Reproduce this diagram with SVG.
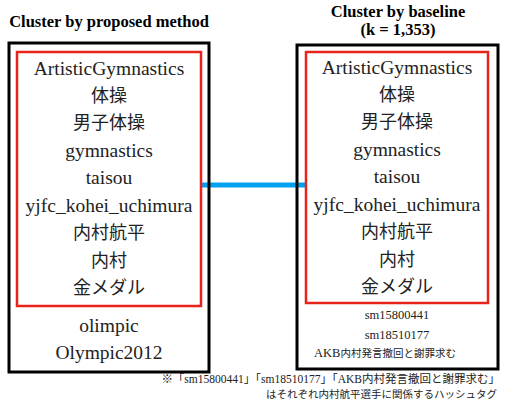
<svg xmlns="http://www.w3.org/2000/svg" width="512" height="402" viewBox="0 0 512 402">
<style>
.outer{fill:none;stroke:#000;stroke-width:3}
.inner{fill:none;stroke:#e8231a;stroke-width:2.5}
.t{font-family:"Liberation Serif","Noto Sans CJK JP",serif;font-size:19.5px;fill:#222;text-anchor:middle}
.j{font-family:"Liberation Serif","Noto Sans CJK JP",serif;font-size:18px;fill:#222;text-anchor:middle}
.s{font-family:"Liberation Serif","Noto Sans CJK JP",serif;font-size:12.5px;fill:#222;text-anchor:middle}
.h{font-family:"Liberation Serif","Noto Sans CJK JP",serif;font-size:16.5px;font-weight:bold;fill:#000;text-anchor:middle}
.n{font-family:"Liberation Serif","Noto Sans CJK JP",serif;font-size:11.5px;fill:#222;text-anchor:end}
.n2{font-size:10.5px}
</style>
<g id="connectors">
<line x1="201" y1="185" x2="305" y2="185" stroke="#00a0f0" stroke-width="5"/>
</g>
<g id="proposed">
<text class="h" x="109" y="27">Cluster by proposed method</text>
<rect class="outer" x="9" y="43" width="200" height="329"/>
<rect class="inner" x="17" y="52" width="184" height="254"/>
<text class="t" x="109" y="75">ArtisticGymnastics</text>
<text class="j" x="109" y="102">体操</text>
<text class="j" x="109" y="129">男子体操</text>
<text class="t" x="109" y="157">gymnastics</text>
<text class="t" x="109" y="184">taisou</text>
<text class="t" x="109" y="212">yjfc_kohei_uchimura</text>
<text class="j" x="109" y="239">内村航平</text>
<text class="j" x="109" y="267">内村</text>
<text class="j" x="109" y="294">金メダル</text>
<text class="t" x="109" y="332">olimpic</text>
<text class="t" x="109" y="359">Olympic2012</text>
</g>
<g id="baseline">
<text class="h" x="398" y="17">Cluster by baseline</text>
<text class="h" x="398" y="35">(k = 1,353)</text>
<rect class="outer" x="297" y="45" width="201" height="324"/>
<rect class="inner" x="306" y="52" width="182" height="251"/>
<text class="t" x="397" y="74">ArtisticGymnastics</text>
<text class="j" x="397" y="101">体操</text>
<text class="j" x="397" y="128">男子体操</text>
<text class="t" x="397" y="156">gymnastics</text>
<text class="t" x="397" y="183">taisou</text>
<text class="t" x="397" y="211">yjfc_kohei_uchimura</text>
<text class="j" x="397" y="238">内村航平</text>
<text class="j" x="397" y="266">内村</text>
<text class="j" x="397" y="293">金メダル</text>
<text class="s" x="397" y="319">sm15800441</text>
<text class="s" x="397" y="339">sm18510177</text>
<text class="s" x="385" y="357">AKB<tspan font-size="10.5">内村発言撤回と謝罪求む</tspan></text>
</g>
<g id="note">
<text class="n" x="500" y="383">※「sm15800441」「sm18510177」「AKB内村発言撤回と謝罪求む」</text>
<text class="n n2" x="497" y="398">はそれぞれ内村航平選手に関係するハッシュタグ</text>
</g>
</svg>
